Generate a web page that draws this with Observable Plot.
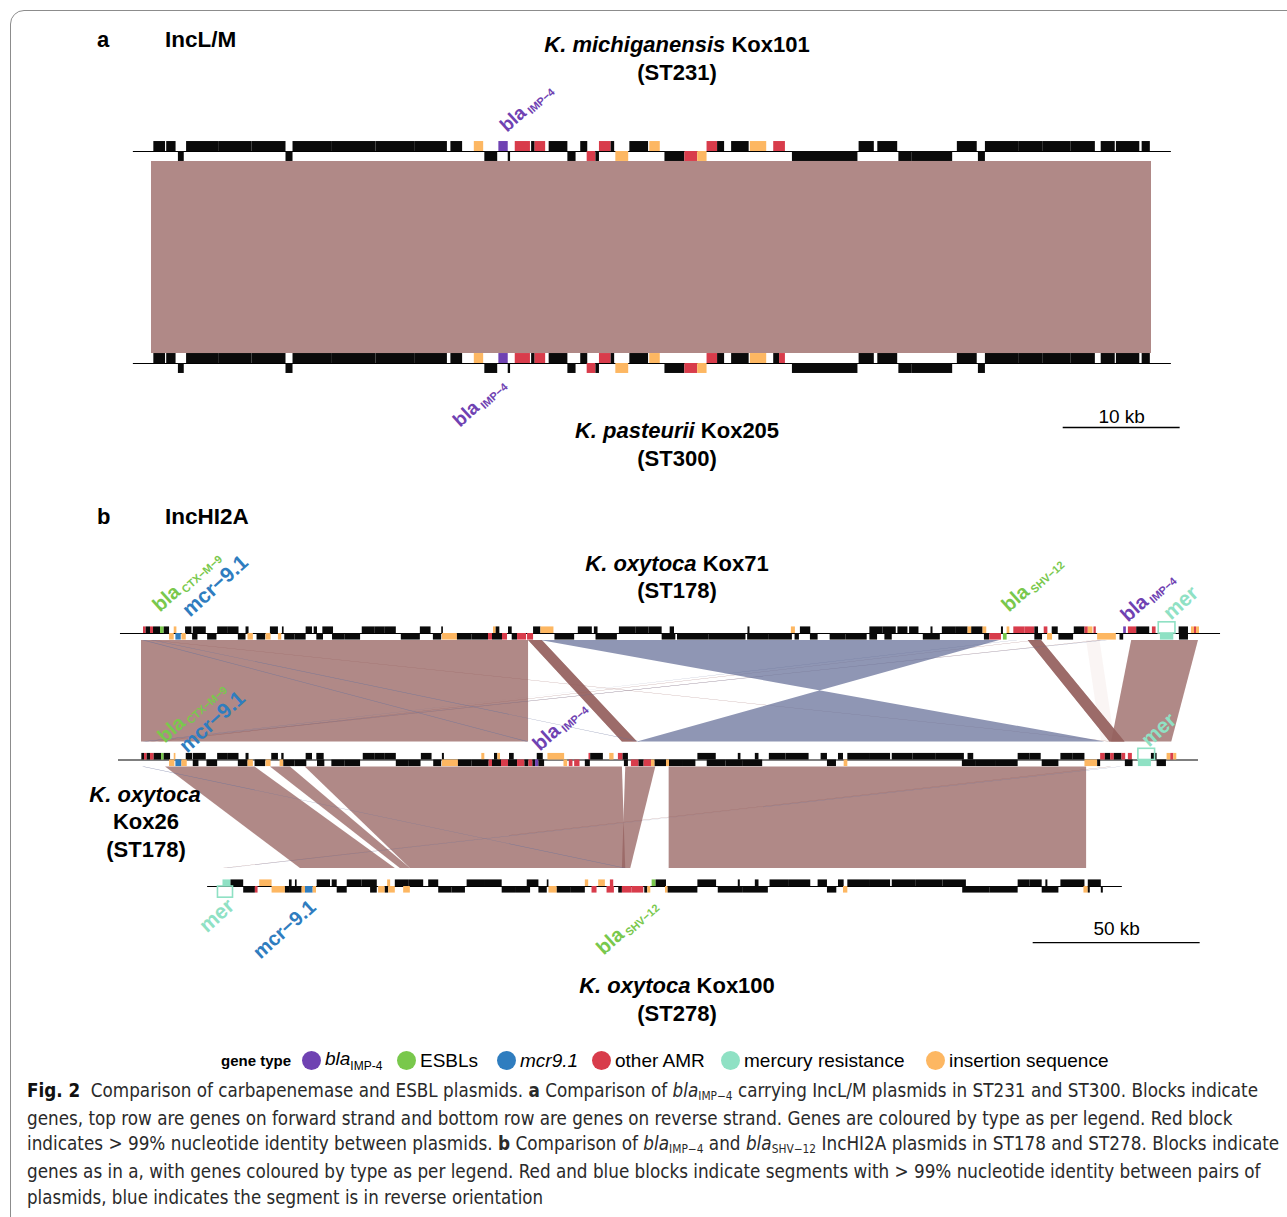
<!DOCTYPE html>
<html><head><meta charset="utf-8">
<script src="https://cdn.jsdelivr.net/npm/d3@7"></script>
<script src="https://cdn.jsdelivr.net/npm/@observablehq/plot@0.6"></script>
<style>
body{margin:0;background:#fff;font-family:"Liberation Sans",Arial,Helvetica,sans-serif;}
#fig{position:relative;width:1287px;height:1217px;overflow:hidden;background:#fff;}
.frame{position:absolute;left:10px;top:10px;width:1320px;height:1260px;border:1px solid #8c8c8c;border-radius:14px;box-sizing:border-box;}
.t{position:absolute;white-space:nowrap;line-height:1;color:#000;}
.lab{position:absolute;width:0;height:0;}
.lab span.in{position:absolute;bottom:0;white-space:nowrap;line-height:1;font-weight:700;}
.cap{position:absolute;left:27px;white-space:nowrap;line-height:1;font-size:19px;color:#2a2a2a;font-family:"Liberation Sans Narrow","DejaVu Sans Condensed","Liberation Sans",Arial,sans-serif;transform-origin:0 50%;}
.cap sub{font-size:12px;vertical-align:-3px;font-style:normal;}
.leg{position:absolute;white-space:nowrap;line-height:1;font-size:19px;color:#000;}
.dot{position:absolute;width:19px;height:19px;border-radius:50%;}
</style></head>
<body><div id="fig"><div class="frame"></div></div>
<script>
// ---------------- gene types ----------------
const TYPES = ["o", "bla", "esbl", "mcr", "amr", "mer", "is"];
const TYPE_COLORS = ["#0a0a0a", "#6f42b2", "#79c84c", "#2f7dbf", "#d83c4b", "#8fe1c4", "#fdb762"];
const RED = "#96625f", BLUE = "#6a739b", PINK = "#d9b5b2";

// ---------------- panel a (kb) ----------------
const kox101Fwd = [[0.2,1.2,"o"],[1.3,2.1,"o"],[3.0,5.8,"o"],[5.8,8.6,"o"],[8.6,11.5,"o"],[12.1,15.4,"o"],[15.4,19.2,"o"],[19.2,22.5,"o"],[22.5,25.3,"o"],[25.6,26.6,"o"],[27.6,28.4,"is"],[29.7,30.5,"bla"],[31.1,32.4,"amr"],[32.5,32.8,"o"],[32.8,33.7,"amr"],[34.0,35.6,"o"],[36.7,37.3,"o"],[38.3,39.3,"amr"],[39.3,39.6,"o"],[40.9,42.5,"o"],[42.6,43.5,"is"],[47.5,48.4,"amr"],[48.4,49.0,"o"],[49.6,51.1,"o"],[51.2,52.6,"is"],[53.2,54.2,"amr"],[60.5,61.8,"o"],[62.1,63.8,"o"],[68.9,70.6,"o"],[71.3,74.2,"o"],[74.2,76.2,"o"],[76.2,78.6,"o"],[78.6,80.7,"o"],[81.2,82.4,"o"],[82.5,84.5,"o"],[84.7,85.4,"o"]];
const kox101Rev = [[2.3,2.8,"o"],[11.5,12.1,"o"],[28.5,29.6,"o"],[30.5,30.7,"o"],[35.6,36.3,"o"],[37.25,38.0,"amr"],[38.0,38.3,"o"],[39.7,40.8,"is"],[43.9,45.6,"o"],[45.6,46.7,"amr"],[46.7,47.5,"is"],[54.8,60.4,"o"],[63.9,65.0,"o"],[65.0,68.5,"o"],[70.7,71.3,"o"]];
const kox205Fwd = [[0.2,1.2,"o"],[1.3,2.1,"o"],[3.0,5.8,"o"],[5.8,8.6,"o"],[8.6,11.5,"o"],[12.1,15.4,"o"],[15.4,19.2,"o"],[19.2,22.5,"o"],[22.5,25.3,"o"],[25.6,26.6,"o"],[27.6,28.4,"is"],[29.7,30.5,"bla"],[31.1,32.4,"amr"],[32.5,32.8,"o"],[32.8,33.7,"amr"],[34.0,35.6,"o"],[36.7,37.3,"o"],[38.3,39.3,"amr"],[39.3,39.6,"o"],[40.9,42.5,"o"],[42.6,43.5,"is"],[47.5,48.4,"amr"],[48.4,49.0,"o"],[49.6,51.1,"o"],[51.2,52.6,"is"],[53.2,53.7,"o"],[53.7,54.2,"amr"],[60.5,61.8,"o"],[62.1,63.8,"o"],[68.9,70.6,"o"],[71.3,74.2,"o"],[74.2,76.2,"o"],[76.2,78.6,"o"],[78.6,80.7,"o"],[81.2,82.4,"o"],[82.5,84.5,"o"],[84.7,85.4,"o"]];
const kox205Rev = [[2.3,2.8,"o"],[11.5,12.1,"o"],[28.5,29.6,"o"],[30.5,30.7,"o"],[35.6,36.3,"o"],[37.25,38.0,"amr"],[38.0,38.3,"o"],[39.7,40.8,"is"],[43.9,45.6,"o"],[45.6,46.7,"amr"],[46.7,47.5,"is"],[54.8,60.4,"o"],[63.9,65.0,"o"],[65.0,68.5,"o"],[70.7,71.3,"o"]];
const backbonesA = [[1, -1.55, 87.2], [0, -1.55, 87.2]];
// [topStart, topEnd, bottomStart, bottomEnd, kind]
const ribbonsA = [[0, 85.5, 0, 85.5, "f"]];
const scaleBarA = {s: 77.95, e: 87.95, len: 10};

// ---------------- panel b (kb along aligned axis) ----------------
const kox71Fwd = [[0.6,1.4,"amr"],[1.4,2.7,"o"],[2.7,3.6,"amr"],[3.6,5.7,"o"],[5.7,6.8,"esbl"],[6.8,8.4,"o"],[9.8,10.6,"is"],[13.2,15.1,"o"],[15.5,19.4,"o"],[22.8,26,"o"],[26,29.2,"o"],[31.3,32.2,"o"],[38.6,41,"o"],[42.2,42.7,"o"],[49.3,51.2,"o"],[51.7,52.7,"o"],[54.3,57.5,"o"],[66.1,70,"o"],[70,73,"o"],[73,76.3,"o"],[83.5,86.7,"o"],[89.9,90.4,"o"],[105.4,106.2,"is"],[106.2,107.3,"o"],[109.9,111,"o"],[117.4,119.6,"o"],[119.6,123.5,"is"],[130.8,135,"o"],[135.6,136.7,"o"],[143.1,148,"o"],[148,152,"o"],[152,155.9,"o"],[158.3,159.6,"o"],[181.6,182.2,"o"],[194.6,195.8,"is"],[197.3,200.4,"o"],[218.1,222,"o"],[222,226,"o"],[226.5,229.5,"o"],[230,232.8,"o"],[236.4,237,"o"],[239.8,244,"o"],[244,247.5,"o"],[247.5,248.6,"is"],[248.6,252,"o"],[252,253.1,"is"],[257.5,258.1,"o"],[259.2,260,"is"],[261.2,264.5,"amr"],[264.5,267.5,"amr"],[267.5,268.6,"o"],[270.3,271.4,"amr"],[272.7,274.5,"o"],[279.3,282.5,"o"],[282.5,283.5,"amr"],[283.5,284.9,"is"],[285.2,285.9,"amr"],[294.1,294.9,"bla"],[295.5,298,"amr"],[298,301.9,"o"],[302.7,303.8,"amr"],[310.7,313.5,"o"],[314.4,315.3,"is"],[315.3,315.9,"amr"],[315.9,316.8,"is"]];
const kox71Rev = [[8.4,9.8,"is"],[10.3,11.9,"mcr"],[12.1,13.4,"is"],[15.3,16.9,"o"],[19.8,22.6,"o"],[29,31.3,"o"],[31.9,33.5,"is"],[34.6,37.2,"o"],[37.3,38.8,"is"],[41,42,"is"],[42.9,46,"o"],[46,49.3,"o"],[52.5,54.5,"o"],[57.2,61,"o"],[61,65.6,"o"],[77.8,83.5,"o"],[87.4,89.9,"o"],[90.1,94.6,"is"],[94.6,99,"o"],[99,103.9,"o"],[103.9,105.1,"amr"],[105.1,108.1,"o"],[108.1,109.6,"amr"],[111,112.6,"o"],[112.6,115.3,"amr"],[115.6,117.4,"amr"],[123.8,129.7,"o"],[136.1,142.5,"o"],[155.9,158.4,"o"],[158.4,160,"o"],[160.5,170,"o"],[170,181,"o"],[181.5,188,"o"],[188,194.9,"o"],[195.7,197,"o"],[200.3,202.6,"o"],[206.2,211,"o"],[211,217.3,"o"],[218.1,220.4,"o"],[222.6,224.8,"o"],[234.1,239.2,"o"],[252.4,254,"o"],[254,257.5,"amr"],[258.1,259.2,"esbl"],[267.5,269.8,"o"],[271.3,272.8,"is"],[274.7,279.1,"o"],[286.3,291.9,"is"],[293,294.1,"o"],[305.1,309.1,"mer"],[310.8,313.5,"o"]];
const kox26Fwd = [[0.1,0.9,"o"],[0.9,1.7,"amr"],[1.7,2.7,"o"],[2.7,3.8,"amr"],[3.8,6,"o"],[6,6.8,"esbl"],[6.8,8.7,"o"],[9.8,10.3,"is"],[13.4,15.3,"o"],[15.5,19.4,"o"],[22.8,26,"o"],[26,29.2,"o"],[31.3,32.2,"o"],[39,41,"o"],[42,42.7,"o"],[49.3,51.2,"o"],[52.5,54.7,"o"],[66.4,70,"o"],[70,73,"o"],[73,76.3,"o"],[83.8,87,"o"],[90.1,90.7,"o"],[101.9,102.8,"is"],[105.7,106.7,"o"],[106.7,107.5,"is"],[110.2,111.6,"o"],[118.5,120.3,"o"],[121.7,126.7,"is"],[134,134.5,"amr"],[134.5,138.3,"o"],[140.2,141.5,"is"],[142.8,144.2,"amr"],[144.2,145.8,"o"],[166.6,172.1,"o"],[178.7,179.5,"o"],[183.8,184.9,"o"],[188,193,"o"],[193,199.9,"o"],[203.5,205.4,"o"],[208.7,210.2,"o"],[211.5,218,"o"],[218,224.3,"o"],[224.8,231,"o"],[231,238,"o"],[238,246.4,"o"],[247.5,249.2,"o"],[262.5,266,"o"],[266,269.4,"o"],[275.3,279,"o"],[279,282.5,"o"],[287.2,288.6,"amr"],[288.6,290.2,"o"],[290.2,291.3,"amr"],[291.3,293.6,"o"],[293.6,294.7,"amr"],[295.5,296.7,"amr"],[302.4,304.1,"o"],[307.1,308.2,"is"],[308.2,309.1,"amr"],[309.1,310,"is"]];
const kox26Rev = [[8.4,10,"is"],[10.3,12.1,"mcr"],[12.1,13.7,"is"],[15.5,17.2,"o"],[19.6,22.8,"o"],[29,31.9,"o"],[31.9,33.5,"is"],[34,37.2,"o"],[37.3,38.8,"is"],[41.5,42.6,"is"],[42.6,46,"o"],[46,49.5,"o"],[52.7,54.9,"o"],[57,61,"o"],[61,65.6,"o"],[76.3,80,"o"],[80,83.7,"o"],[87.5,89.9,"o"],[90.1,94.9,"is"],[94.9,99,"o"],[99,104.1,"o"],[104.1,105.1,"amr"],[105.1,107.8,"o"],[107.8,109.9,"amr"],[109.9,112.6,"o"],[112.6,114.8,"amr"],[114.8,116,"o"],[116,117.2,"amr"],[117.2,118,"o"],[118,119,"bla"],[119,120.7,"o"],[126.5,127.6,"is"],[128.1,129.2,"amr"],[129.7,131.3,"amr"],[132.9,134.4,"o"],[144.6,145.8,"o"],[146.7,149,"amr"],[149,150.5,"o"],[150.5,152.7,"amr"],[152.7,153.8,"is"],[153.8,157.2,"o"],[157.2,158.1,"is"],[158.1,162,"o"],[162,166,"o"],[169.4,175,"o"],[175,180,"o"],[180,186,"o"],[205.4,208.1,"o"],[210.4,211.5,"is"],[245.8,250,"o"],[250,256,"o"],[256,262.5,"o"],[269.7,274.7,"o"],[282.5,286.3,"is"],[286.3,287.2,"o"],[294.6,296.9,"o"],[298.5,302.4,"mer"],[304.1,306.9,"o"]];
const kox100Fwd = [[24.4,26.8,"mer"],[26.8,30.6,"o"],[35.4,39.1,"is"],[44.3,45.1,"o"],[46.1,46.6,"o"],[52.6,56.6,"o"],[57.1,58.6,"o"],[61.6,66,"o"],[66,70.6,"o"],[73.7,74.6,"is"],[76,80,"o"],[80,84.5,"o"],[86,89,"o"],[97.5,103,"o"],[103,108,"o"],[115.5,119,"o"],[121.5,122,"o"],[132.9,133.9,"is"],[136.9,138.9,"is"],[140.4,141.4,"amr"],[152.9,154.1,"esbl"],[154.1,157.2,"o"],[166.6,172.2,"o"],[178.7,179.3,"o"],[183.8,184.9,"o"],[188.2,194,"o"],[194,200.4,"o"],[202.6,205.4,"o"],[208.7,210.4,"o"],[211.5,218,"o"],[218,224.3,"o"],[224.8,232,"o"],[232,240,"o"],[240,247,"o"],[262.5,266,"o"],[266,269.7,"o"],[270.8,271.4,"o"],[275.3,282.5,"o"],[283.5,287.4,"o"]];
const kox100Rev = [[30.6,34.1,"o"],[34.1,34.9,"amr"],[39.1,43.1,"is"],[43.1,44.6,"o"],[44.6,48.1,"o"],[48.1,49.1,"is"],[49.1,51.4,"mcr"],[51.4,52.4,"is"],[58.6,61.6,"o"],[68.6,70.6,"o"],[71,73,"is"],[73,74,"o"],[74,76,"is"],[78.5,80.5,"is"],[89,93,"o"],[93,97,"o"],[108,112,"o"],[112,116.5,"o"],[119,121.5,"o"],[122,124.5,"is"],[124.5,128.5,"o"],[128.5,132.9,"o"],[134.9,136.4,"amr"],[139.4,141.6,"amr"],[142.9,144,"o"],[144,146.9,"amr"],[146.9,150.4,"amr"],[150.7,151.6,"o"],[151.6,152.5,"is"],[156.9,157.7,"is"],[157.7,166.6,"o"],[172.7,180,"o"],[180,187.7,"o"],[205.4,208.2,"o"],[210.2,211.5,"is"],[245.9,254,"o"],[254,262.5,"o"],[269.7,274.7,"o"],[282.2,283.5,"is"],[283.5,284.1,"o"],[287.4,288,"o"]];
// mercury operon brackets [start, end, track, side]
const merBrackets = [[304.6,309.6,2,1],[298.5,303.5,1,1],[22.9,27.4,0,-1]];
const backbonesB = [[2, -6.3, 323.1], [1, -6.9, 316.5], [0, 19.8, 293.7]];
// Kox71 -> Kox26
const ribbonsB1 = [[0,115.9,0,115.9,"f"],[115.9,120.0,144.0,148.5,"f"],[115.9,120.0,144.0,148.5,"f"],[119.5,257.0,288.5,148.5,"r"],[265.5,269.5,290.0,294.5,"f"],[265.5,269.5,290.0,294.5,"f"],[296.5,316.5,290.5,308.5,"f"],[283.0,287.0,287.5,291.5,"p"],[0.3,1.0,115.3,116.0,"r"],[3.0,3.6,149.0,149.6,"r"],[287.0,287.7,2.5,3.2,"f"],[2.7,3.4,290.0,290.7,"f"],[288.6,289.3,0.3,1.0,"r"],[268.0,268.6,5.0,5.6,"f"],[262.0,262.5,1.0,1.5,"r"]];
// Kox26 -> Kox100
const ribbonsB2 = [[7.2,34.0,47.6,76.0,"f"],[38.6,44.6,77.5,80.5,"f"],[49.0,144.0,80.5,145.0,"f"],[145.0,154.0,144.0,146.5,"f"],[158.0,283.0,158.0,283.0,"f"],[0.3,0.9,144.5,145.1,"r"],[290.0,290.6,24.5,25.1,"f"],[293.0,293.5,25.5,26.0,"r"]];
const scaleBarB = {s: 267, e: 317, len: 50};

// rotated gene labels: kb, track, offset(px), side, main, sub, colour, size
const labelsA = [
  {kb:30.6, track:1, off:16, side:"above", main:"bla", sub:"IMP−4", type:"bla", size:19},
  {kb:30.6, track:0, off:25, side:"below", main:"bla", sub:"IMP−4", type:"bla", size:19}
];
const labelsB = [
  {kb:6.3, track:2, off:18, side:"above", main:"bla", sub:"CTX−M−9", type:"esbl", size:20},
  {kb:15.3, track:2, off:13, side:"above", main:"mcr−9.1", sub:"", type:"mcr", size:21},
  {kb:260.5, track:2, off:18, side:"above", main:"bla", sub:"SHV−12", type:"esbl", size:20},
  {kb:296.1, track:2, off:8, side:"above", main:"bla", sub:"IMP−4", type:"bla", size:20},
  {kb:309.0, track:2, off:10, side:"above", main:"mer", sub:"", type:"mer", size:21},
  {kb:7.8, track:1, off:14, side:"above", main:"bla", sub:"CTX−M−9", type:"esbl", size:20},
  {kb:14.4, track:1, off:4, side:"above", main:"mcr−9.1", sub:"", type:"mcr", size:21},
  {kb:120.1, track:1, off:6, side:"above", main:"bla", sub:"IMP−4", type:"bla", size:20},
  {kb:302.4, track:1, off:10, side:"above", main:"mer", sub:"", type:"mer", size:21},
  {kb:29.0, track:0, off:24, side:"below", main:"mer", sub:"", type:"mer", size:21},
  {kb:53.3, track:0, off:25, side:"below", main:"mcr−9.1", sub:"", type:"mcr", size:20},
  {kb:155.4, track:0, off:23, side:"below", main:"bla", sub:"SHV−12", type:"esbl", size:20}
];

const titles = [
  {x:97, y:40, html:"a", size:22, anchor:"start"},
  {x:165, y:40, html:"IncL/M", size:22.5, anchor:"start"},
  {x:677, y:45, html:"<i>K. michiganensis</i> Kox101", size:22},
  {x:677, y:73, html:"(ST231)", size:22},
  {x:677, y:431, html:"<i>K. pasteurii</i> Kox205", size:22},
  {x:677, y:459, html:"(ST300)", size:22},
  {x:97, y:517, html:"b", size:22, anchor:"start"},
  {x:165, y:517, html:"IncHI2A", size:22.5, anchor:"start"},
  {x:677, y:564, html:"<i>K. oxytoca</i> Kox71", size:22},
  {x:677, y:591, html:"(ST178)", size:22},
  {x:145, y:795, html:"<i>K. oxytoca</i>", size:22},
  {x:146, y:822, html:"Kox26", size:22},
  {x:146, y:850, html:"(ST178)", size:22},
  {x:677, y:986, html:"<i>K. oxytoca</i> Kox100", size:22},
  {x:677, y:1014, html:"(ST278)", size:22}
];
const legendItems = [
  {type:"bla", html:"<i>bla</i><sub style='font-size:12px;vertical-align:-5px'>IMP-4</sub>", cx:311},
  {type:"esbl", html:"ESBLs", cx:406},
  {type:"mcr", html:"<i>mcr9.1</i>", cx:506},
  {type:"amr", html:"other AMR", cx:601},
  {type:"mer", html:"mercury resistance", cx:730},
  {type:"is", html:"insertion sequence", cx:935}
];
const captionLines = [
  {w:1231, html:"<b style='color:#111'>Fig. 2</b>&nbsp; Comparison of carbapenemase and ESBL plasmids. <b>a</b> Comparison of <i>bla</i><sub>IMP−4</sub> carrying IncL/M plasmids in ST231 and ST300. Blocks indicate"},
  {w:1206, html:"genes, top row are genes on forward strand and bottom row are genes on reverse strand. Genes are coloured by type as per legend. Red block"},
  {w:1252, html:"indicates &gt; 99% nucleotide identity between plasmids. <b>b</b> Comparison of <i>bla</i><sub>IMP−4</sub> and <i>bla</i><sub>SHV−12</sub> IncHI2A plasmids in ST178 and ST278. Blocks indicate"},
  {w:1233, html:"genes as in a, with genes coloured by type as per legend. Red and blue blocks indicate segments with &gt; 99% nucleotide identity between pairs of"},
  {w:516, html:"plasmids, blue indicates the segment is in reverse orientation"}
];

// ---------------- helpers ----------------
const FONT = "'Liberation Sans', Arial, Helvetica, sans-serif";
const colorOf = t => TYPE_COLORS[TYPES.indexOf(t)];
const toGenes = (fwd, rev, track) => [
  ...fwd.map(([s, e, t]) => ({s, e, t, st: 1, track})),
  ...rev.map(([s, e, t]) => ({s, e, t, st: -1, track}))
];
const ribbonRows = (list, yTop, yBot) => list.flatMap(([ts, te, bs, be, k], i) => [
  {id: i, k, y: yTop, a: ts, b: te}, {id: i, k, y: yBot, a: bs, b: be}
]);
const lines = arr => arr.map(([track, s, e]) => ({track, s, e}));
function scaler(plot, name) {
  const s = plot.scale(name);
  if (s && typeof s.apply === "function") return v => s.apply(v);
  const [d0, d1] = s.domain, [r0, r1] = s.range;
  return v => r0 + (v - d0) / (d1 - d0) * (r1 - r0);
}
function ribbonMarks(rows) {
  return [
    Plot.area(rows.filter(d => d.k === "p"), {x1: "a", x2: "b", y1: "y", y2: "y", z: "id", fill: PINK, fillOpacity: 0.14, curve: "linear"}),
    Plot.area(rows.filter(d => d.k === "f"), {x1: "a", x2: "b", y1: "y", y2: "y", z: "id", fill: RED, fillOpacity: 0.75, curve: "linear"}),
    Plot.area(rows.filter(d => d.k === "r"), {x1: "a", x2: "b", y1: "y", y2: "y", z: "id", fill: BLUE, fillOpacity: 0.75, curve: "linear"})
  ];
}
function geneMark(genes, H) {
  return Plot.rect(genes, {x1: "s", x2: "e", y1: d => d.st > 0 ? d.track : d.track - H, y2: d => d.st > 0 ? d.track + H : d.track, fill: "t"});
}

const fig = document.getElementById("fig");

// ---------------- panel a plot ----------------
const HA = 0.047, TOP_A = 80;
const plotA = Plot.plot({
  width: 1287, height: 380, marginLeft: 151, marginRight: 136, marginTop: 71, marginBottom: 97,
  x: {domain: [0, 85.5], axis: null}, y: {domain: [0, 1], axis: null},
  color: {domain: TYPES, range: TYPE_COLORS},
  style: {background: "transparent", overflow: "visible", fontFamily: FONT},
  marks: [
    ...ribbonMarks(ribbonRows(ribbonsA, 1 - HA, HA)),
    Plot.ruleY(lines(backbonesA), {y: "track", x1: "s", x2: "e", stroke: "#000", strokeWidth: 1.2}),
    geneMark([...toGenes(kox101Fwd, kox101Rev, 1), ...toGenes(kox205Fwd, kox205Rev, 0)], HA),
    Plot.ruleY([scaleBarA], {y: -0.302, x1: "s", x2: "e", stroke: "#000", strokeWidth: 1.3}),
    Plot.text([scaleBarA], {x: d => (d.s + d.e) / 2, y: -0.25, text: d => `${d.len} kb`, fontSize: 19, fill: "#000"})
  ]
});
plotA.style.position = "absolute"; plotA.style.left = "0px"; plotA.style.top = TOP_A + "px";
fig.appendChild(plotA);

// ---------------- panel b plot ----------------
const HB = 0.052, TOP_B = 540;
const plotB = Plot.plot({
  width: 1287, height: 420, marginLeft: 141, marginRight: 84, marginTop: 93, marginBottom: 74,
  x: {domain: [0, 318], axis: null}, y: {domain: [0, 2], axis: null},
  color: {domain: TYPES, range: TYPE_COLORS},
  style: {background: "transparent", overflow: "visible", fontFamily: FONT},
  marks: [
    ...ribbonMarks(ribbonRows(ribbonsB1, 2 - 0.055, 1 + 0.142)),
    ...ribbonMarks(ribbonRows(ribbonsB2, 1 - 0.055, 0 + 0.142)),
    Plot.ruleY(lines(backbonesB), {y: "track", x1: "s", x2: "e", stroke: "#000", strokeWidth: 1.2}),
    geneMark([...toGenes(kox71Fwd, kox71Rev, 2), ...toGenes(kox26Fwd, kox26Rev, 1), ...toGenes(kox100Fwd, kox100Rev, 0)], HB),
    Plot.rect(merBrackets, {x1: d => d[0], x2: d => d[1], y1: d => d[2], y2: d => d[2] + d[3] * HB * 1.7, fill: "none", stroke: colorOf("mer"), strokeWidth: 1.6}),
    Plot.ruleY([scaleBarB], {y: -0.443, x1: "s", x2: "e", stroke: "#000", strokeWidth: 1.3}),
    Plot.text([scaleBarB], {x: d => (d.s + d.e) / 2, y: -0.332, text: d => `${d.len} kb`, fontSize: 19, fill: "#000"})
  ]
});
plotB.style.position = "absolute"; plotB.style.left = "0px"; plotB.style.top = TOP_B + "px";
fig.appendChild(plotB);

// ---------------- rotated gene labels ----------------
function addLabels(plot, top, labels) {
  const xs = scaler(plot, "x"), ys = scaler(plot, "y");
  for (const l of labels) {
    const px = xs(l.kb), py = top + ys(l.track) + (l.side === "above" ? -l.off : l.off);
    const w = document.createElement("div");
    w.className = "lab"; w.style.left = px + "px"; w.style.top = py + "px";
    const sp = document.createElement("span");
    sp.className = "in";
    sp.style.color = colorOf(l.type);
    sp.style.fontSize = l.size + "px";
    if (l.side === "above") { sp.style.left = "0px"; sp.style.transformOrigin = "0 100%"; }
    else { sp.style.right = "0px"; sp.style.transformOrigin = "100% 100%"; }
    sp.style.transform = "rotate(-42deg)";
    sp.innerHTML = l.main + (l.sub ? `<span style="font-size:${Math.round(l.size*0.56)}px;margin-left:3px;position:relative;top:3px">${l.sub}</span>` : "");
    w.appendChild(sp); fig.appendChild(w);
  }
}
addLabels(plotA, TOP_A, labelsA);
addLabels(plotB, TOP_B, labelsB);

// ---------------- titles ----------------
for (const t of titles) {
  const d = document.createElement("div");
  d.className = "t"; d.innerHTML = t.html;
  d.style.left = t.x + "px"; d.style.top = t.y + "px";
  d.style.fontSize = t.size + "px"; d.style.fontWeight = "700";
  d.style.transform = t.anchor === "start" ? "translate(0,-50%)" : "translate(-50%,-50%)";
  fig.appendChild(d);
}

// ---------------- legend ----------------
{
  const g = document.createElement("div");
  g.className = "leg"; g.style.left = "221px"; g.style.top = "1060px";
  g.style.fontSize = "15px"; g.style.fontWeight = "700"; g.style.transform = "translate(0,-50%)";
  g.textContent = "gene type"; fig.appendChild(g);
  for (const it of legendItems) {
    const dot = document.createElement("div");
    dot.className = "dot"; dot.style.background = colorOf(it.type);
    dot.style.left = (it.cx - 9.5) + "px"; dot.style.top = (1060 - 9.5) + "px";
    fig.appendChild(dot);
    const tx = document.createElement("div");
    tx.className = "leg"; tx.innerHTML = it.html;
    tx.style.left = (it.cx + 14) + "px"; tx.style.top = "1060px"; tx.style.transform = "translate(0,-50%)";
    fig.appendChild(tx);
  }
}

// ---------------- caption ----------------
captionLines.forEach((c, i) => {
  const d = document.createElement("div");
  d.className = "cap"; d.innerHTML = c.html;
  d.style.top = (1091 + i * 26.5) + "px";
  fig.appendChild(d);
  const w = d.offsetWidth;
  d.style.transform = `translate(0,-50%) scaleX(${c.w / w})`;
});
</script></body></html>
